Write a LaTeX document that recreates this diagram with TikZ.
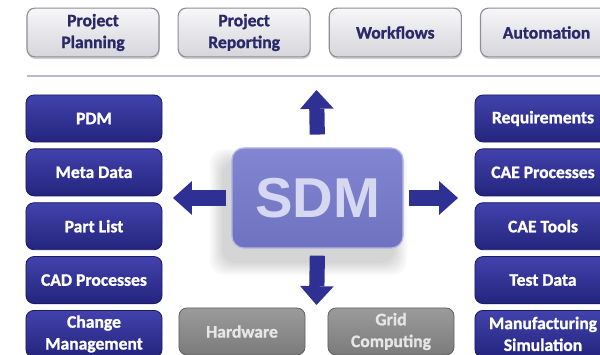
\documentclass[tikz,border=0pt]{standalone}
\usepackage{fontspec}
\setmainfont{Carlito}[BoldFeatures={FakeBold=1.2}]
\newfontfamily\sdmfont{Liberation Sans}
\usetikzlibrary{positioning,shadows,arrows.meta}

\definecolor{boxblue}{HTML}{2F3094}
\definecolor{boxbluetop}{HTML}{4242AC}
\definecolor{boxbluebot}{HTML}{24247E}
\definecolor{edgeblue}{HTML}{1C1C66}
\definecolor{paletop}{HTML}{F7F7F9}
\definecolor{palebot}{HTML}{D5D5DB}
\definecolor{paleedge}{HTML}{8E8E96}
\definecolor{inkblue}{HTML}{2B286A}
\definecolor{greytop}{HTML}{9B9B9B}
\definecolor{greybot}{HTML}{7B7B7B}
\definecolor{greytext}{HTML}{E6E6E6}
\definecolor{sdmtop}{HTML}{8285D0}
\definecolor{sdmbot}{HTML}{6F72C0}
\definecolor{sdmtext}{HTML}{D6D7F0}
\definecolor{rulecol}{HTML}{B9B8D2}

\tikzset{
  box/.style={rounded corners=0.2cm, minimum height=1.175cm, align=center, inner sep=0pt,
    font=\fontsize{12.5}{15.5}\selectfont\bfseries},
  topbox/.style={box, minimum width=3.3cm, minimum height=1.22cm,
    top color=paletop, bottom color=palebot, draw=paleedge, line width=0.8pt, text=inkblue,
    drop shadow={shadow xshift=0.4pt, shadow yshift=-1.5pt, opacity=0.35}},
  bluebox/.style={box, minimum width=3.4cm, top color=boxbluetop, bottom color=boxbluebot,
    draw=edgeblue, line width=0.6pt, text=white},
  greybox/.style={box, minimum width=3.15cm, top color=greytop, bottom color=greybot,
    draw=greybot!80!black, line width=0.6pt, text=greytext},
  sdmbox/.style={rounded corners=0.3cm, minimum width=4.275cm, minimum height=2.5cm,
    top color=sdmtop, bottom color=sdmbot, draw=sdmtop!60!white, line width=0.9pt,
    text=sdmtext, font=\sdmfont\fontsize{40}{40}\selectfont\bfseries},
  fatarrow/.style={draw=boxblue, line width=0.38cm,
    -{Triangle[length=0.47cm, width=0.84cm, line width=0pt]}},
}

\begin{document}
\begin{tikzpicture}[x=0.025cm, y=-0.025cm, node distance=0.15cm]
\useasboundingbox (0,0) rectangle (600,355);
\fill[white] (0,0) rectangle (600,355);

% top row
\node[topbox] (plan) at (93,32.5) {Project\\Planning};
\node[topbox, right=0.45cm of plan] (report) {Project\\Reporting};
\node[topbox, right=0.45cm of report] (flows) {Workflows};
\node[topbox, right=0.45cm of flows] (auto) {Automation};
\draw[rulecol, line width=1.2pt] (27,76) -- (600,76);

% left column
\node[bluebox] (pdm) at (94,118.5) {PDM};
\node[bluebox, below=of pdm] (meta) {Meta Data};
\node[bluebox, below=of meta] (parts) {Part List};
\node[bluebox, below=of parts] (cad) {CAD Processes};
\node[bluebox, below=of cad] (change) {Change\\Management};

% right column
\node[bluebox] (req) at (543,118.5) {Requirements};
\node[bluebox, below=of req] (caeproc) {CAE Processes};
\node[bluebox, below=of caeproc] (caetools) {CAE Tools};
\node[bluebox, below=of caetools] (test) {Test Data};
\node[bluebox, below=of test] (manu) {Manufacturing\\Simulation};

% bottom row
\node[greybox] (hw) at (242,331.5) {Hardware};
\node[greybox] (grid) at (391,331.5) {Grid\\Computing};

% centre, with a soft shadow down and to the left
\coordinate (sdmnw) at (232,148);
\coordinate (sdmse) at (403,248);
\foreach \g in {13,11,...,1}
  \fill[black, opacity=0.022, rounded corners=0.35cm]
    ([shift={(-9-\g,14-\g)}]sdmnw) rectangle ([shift={(-9+\g,14+\g)}]sdmse);
\node[sdmbox] (sdm) at (317.5,198) {SDM};

\coordinate (uptip) at (316.5,90);
\coordinate (lefttip) at (173,198);
\coordinate (righttip) at (458,198);
\coordinate (downtip) at (316.5,305);
\draw[fatarrow, shorten <=0.32cm] (sdm.north) -- (uptip);
\draw[fatarrow, shorten <=0.125cm] (sdm.west) -- (lefttip);
\draw[fatarrow, shorten <=0.125cm] (sdm.east) -- (righttip);
\draw[fatarrow, shorten <=0.175cm] (sdm.south) -- (downtip);
\end{tikzpicture}
\end{document}
